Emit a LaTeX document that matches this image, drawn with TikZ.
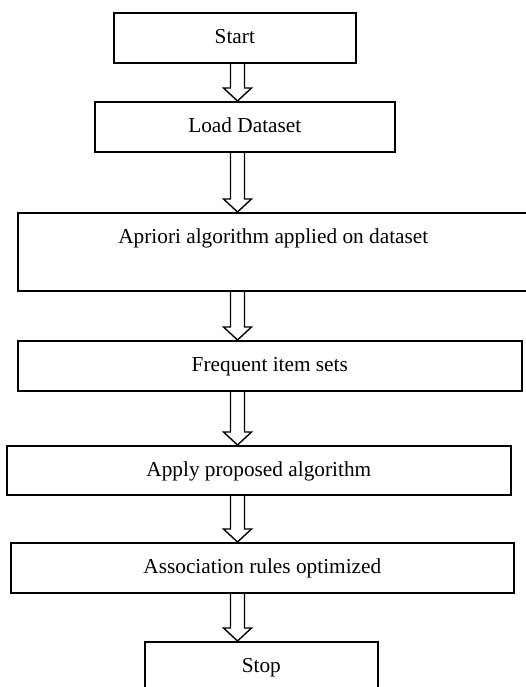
\documentclass[tikz,border=0pt]{standalone}
\usepackage{fontspec}
\setmainfont{Liberation Serif}
\usetikzlibrary{calc}
\newcommand\blockarr[2]{%
  \draw[flowarrow] let \p1=(#1.south), \p2=(#2.north) in
    (230.5pt,\y1) -- (230.5pt,\y2+13pt) -- (223.5pt,\y2+13pt) -- (237.5pt,\y2)
    -- (251.5pt,\y2+13pt) -- (244.5pt,\y2+13pt) -- (244.5pt,\y1);}
\begin{document}
\begin{tikzpicture}[x=1pt,y=-1pt,
  box/.style={draw, rectangle, line width=1.6pt, inner sep=0pt, anchor=north west,
    text height=31pt, text depth=19pt, font=\fontsize{21.3}{24}\selectfont},
  flowarrow/.style={draw, line width=1.4pt, line join=miter}]
\useasboundingbox (0,0) rectangle (526,687);
\clip (0,0) rectangle (526,687);
\node[box, minimum width=242pt] (start) at (113,12) {Start};
\node[box, minimum width=300pt] (load) at (94,101) {Load Dataset};
\node[box, minimum width=511pt, text depth=47pt] (apriori) at (17,212) {Apriori algorithm applied on dataset};
\node[box, minimum width=504pt] (freq) at (17,340) {Frequent item sets};
\node[box, minimum width=504pt, text depth=18pt] (apply) at (6,445) {Apply proposed algorithm};
\node[box, minimum width=503pt] (assoc) at (10,542) {Association rules optimized};
\node[box, minimum width=233pt, text depth=70pt] (stop) at (144,641) {Stop};
\blockarr{start}{load}
\blockarr{load}{apriori}
\blockarr{apriori}{freq}
\blockarr{freq}{apply}
\blockarr{apply}{assoc}
\blockarr{assoc}{stop}
\end{tikzpicture}
\end{document}
